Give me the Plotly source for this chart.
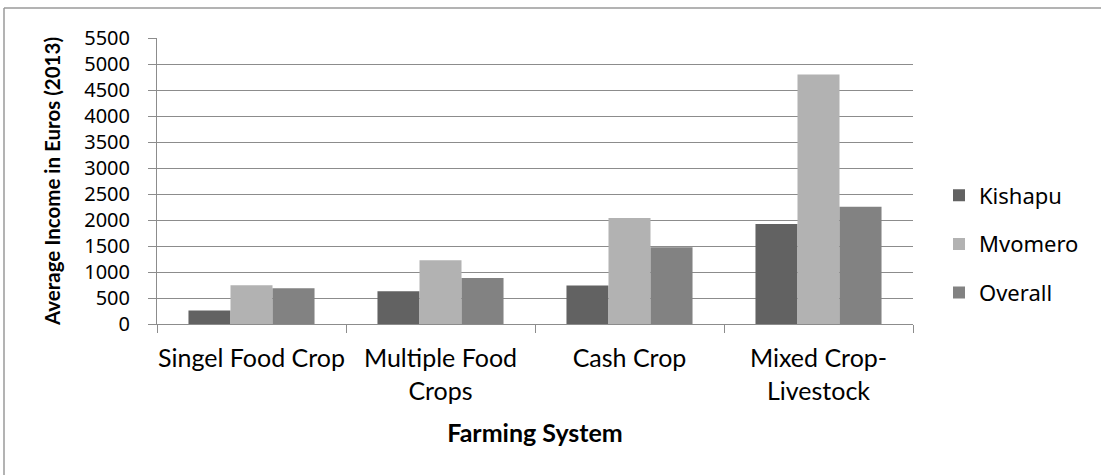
import plotly.graph_objects as go

categories = ["Singel Food Crop", "Multiple Food<br>Crops", "Cash Crop", "Mixed Crop-<br>Livestock"]
kishapu = [258, 629, 738, 1923]
mvomero = [744, 1225, 2038, 4796]
overall = [686, 885, 1475, 2257]
series_names = ["Kishapu", "Mvomero", "Overall"]
series_colors = ["#626262", "#b2b2b2", "#828282"]
y_ticks = list(range(0, 5501, 500))

fig = go.Figure()
for i, (name, vals, col) in enumerate(zip(series_names, [kishapu, mvomero, overall], series_colors)):
    fig.add_trace(go.Bar(x=categories, y=vals, name=name, marker=dict(color=col, line=dict(width=0)),
                         legendgroup=name))

W, H = 1101, 475
ml, mr, mt, mb = 157, 188, 38, 151
pw, ph = W - ml - mr, H - mt - mb

def px_x(x):
    return (x - ml) / pw

def px_y(y):
    return (H - mb - y) / ph

fig.update_layout(
    width=W, height=H,
    margin=dict(l=ml, r=mr, t=mt, b=mb, autoexpand=False),
    paper_bgcolor="white", plot_bgcolor="white",
    barmode="group", bargap=0.333, bargroupgap=0,
    font=dict(family="Noto Sans", size=22, color="#000000"),
    legend=dict(x=px_x(939), xanchor="left", y=px_y(244), yanchor="middle",
                font=dict(family="Noto Sans", size=22, color="#000000"),
                tracegroupgap=17, itemclick=False, bgcolor="rgba(0,0,0,0)"),
    xaxis=dict(
        type="category", tickson="boundaries", ticks="outside", ticklen=8, tickcolor="#8c8c8c",
        showline=True, linecolor="#8c8c8c", linewidth=1, showgrid=False, tickangle=0,
        tickfont=dict(family="Lato", size=25, color="#000000"), ticklabelstandoff=12,
        title=dict(text="<b>Farming System</b>", font=dict(family="Lato", size=25, color="#000000"), standoff=20),
        automargin=False,
    ),
    yaxis=dict(
        range=[0, 5500], tickvals=y_ticks, ticktext=[str(v) for v in y_ticks],
        ticks="outside", ticklen=8, tickcolor="#8c8c8c",
        showline=True, linecolor="#8c8c8c", linewidth=1,
        showgrid=True, gridcolor="#8c8c8c", gridwidth=1, zeroline=False,
        tickfont=dict(family="Noto Sans", size=20, color="#000000"), ticklabelstandoff=14,
        title=dict(text="<b>Average Income in Euros (2013)</b>", font=dict(family="Lato", size=20.5, color="#000000"), standoff=18),
        automargin=False,
    ),
    shapes=[
        dict(type="line", xref="paper", yref="paper", x0=px_x(4), x1=px_x(W + 5), y0=px_y(8), y1=px_y(8),
             line=dict(color="#9a9a9a", width=1.5)),
        dict(type="line", xref="paper", yref="paper", x0=px_x(4), x1=px_x(4), y0=px_y(8), y1=px_y(H + 5),
             line=dict(color="#9a9a9a", width=1.5)),
    ],
)

fig.write_html("out.html", config={"displayModeBar": False},
               post_script="document.body.style.margin='0';document.body.style.overflow='hidden';")
